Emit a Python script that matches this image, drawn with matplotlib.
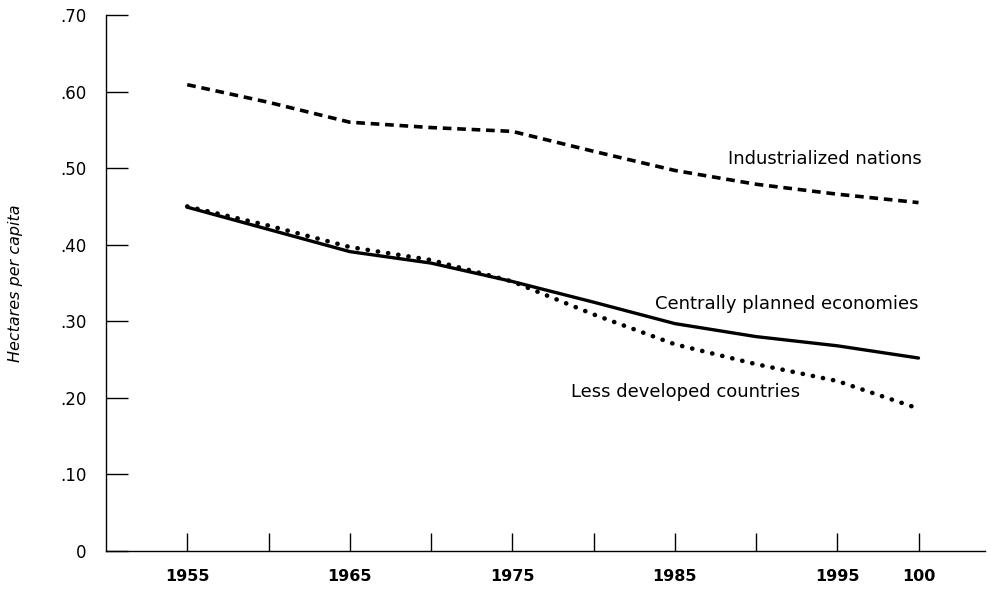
import matplotlib.pyplot as plt
import numpy as np

years = [1955, 1960, 1965, 1970, 1975, 1980, 1985, 1990, 1995, 2000]
industrialized = [0.609, 0.586, 0.560, 0.553, 0.548, 0.522, 0.497, 0.479, 0.466, 0.455]
centrally_planned = [0.449, 0.420, 0.391, 0.376, 0.352, 0.325, 0.297, 0.280, 0.268, 0.252]
less_developed = [0.450, 0.425, 0.397, 0.380, 0.352, 0.309, 0.270, 0.244, 0.222, 0.186]

xtick_pos = [1955, 1960, 1965, 1970, 1975, 1980, 1985, 1990, 1995, 2000]
xtick_labels = ["1955", "", "1965", "", "1975", "", "1985", "", "1995", "100"]
ytick_pos = [0, 0.1, 0.2, 0.3, 0.4, 0.5, 0.6, 0.7]
ytick_labels = ["0", ".10", ".20", ".30", ".40", ".50", ".60", ".70"]

plt.rcParams['font.family'] = ['DejaVu Sans']

fig = plt.figure(figsize=(9.91, 5.94), dpi=100)
ax = fig.add_axes([106/991, 1 - 551/594, (985 - 106)/991, (551 - 15)/594])

ax.plot(years, industrialized, color='black', lw=2.6, linestyle=(0, (2.4, 1.6)))
ax.plot(years, centrally_planned, color='black', lw=2.4, solid_capstyle='round')
ax.plot(years, less_developed, color='black', lw=3.3, linestyle=(0, (0.05, 2.2)),
        dash_capstyle='round')

ax.set_xlim(1950, 1950 + (985 - 106) / 16.25)
ax.set_ylim(0, 0.70)

ax.set_xticks(xtick_pos)
ax.set_xticklabels(xtick_labels)
ax.set_yticks(ytick_pos)
ax.set_yticklabels(ytick_labels)

ax.tick_params(axis='y', direction='in', length=16, width=1.0, pad=14, labelsize=12)
ax.tick_params(axis='x', direction='in', length=13, width=1.0, pad=13, labelsize=11.5)
for lab in ax.get_xticklabels():
    lab.set_fontweight('bold')

for side in ['top', 'right']:
    ax.spines[side].set_visible(False)
ax.spines['left'].set_linewidth(1.0)
ax.spines['bottom'].set_linewidth(1.0)

ax.set_ylabel("Hectares per capita", fontstyle='italic', fontsize=11.5)
ax.yaxis.set_label_coords(-0.094, 0.50)

ax.text(2000.2, 0.512, "Industrialized nations", ha='right', va='center', fontsize=13)
ax.text(2000.0, 0.323, "Centrally planned economies", ha='right', va='center', fontsize=13)
ax.text(1992.7, 0.207, "Less developed countries", ha='right', va='center', fontsize=13)

fig.savefig("out.png", dpi=100)
